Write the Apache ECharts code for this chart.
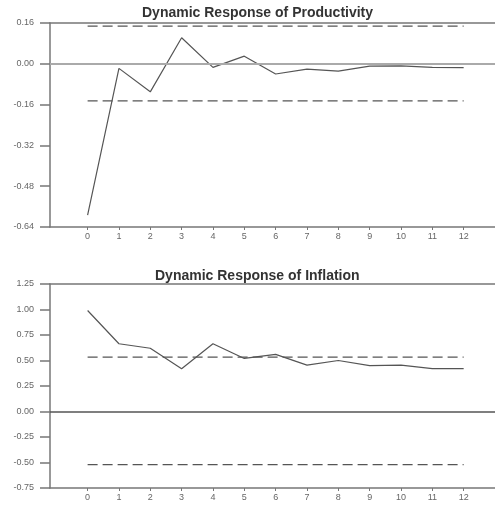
<!DOCTYPE html>
<html>
<head>
<meta charset="utf-8">
<script src="https://cdn.jsdelivr.net/npm/echarts@6/dist/echarts.min.js"></script>
<style>html,body{margin:0;padding:0;background:#fff}#c{width:495px;height:508px}</style>
</head>
<body>
<div id="c"></div>
<script>
var horizons = [0,1,2,3,4,5,6,7,8,9,10,11,12];
var productivity = [-0.593,-0.018,-0.11,0.102,-0.014,0.03,-0.04,-0.021,-0.029,-0.009,-0.008,-0.014,-0.015];
var inflation = [0.99,0.664,0.62,0.42,0.664,0.52,0.56,0.455,0.50,0.45,0.455,0.42,0.42];
var prodBands = [0.148,-0.145];
var inflBands = [0.533,-0.52];
var titles = ['Dynamic Response of Productivity','Dynamic Response of Inflation'];

var chart = echarts.init(document.getElementById('c'), null, {renderer:'canvas'});
var axisCol = '#777';
var labelStyle = {color:'#666', fontSize:9, fontFamily:'Liberation Sans, Arial, sans-serif'};
var titleStyle = {fontSize:14, fontWeight:'bold', color:'#333', fontFamily:'Liberation Sans, Arial, sans-serif'};

function xAx(gi){
  return [{
    type:'value', gridIndex:gi, min:-1.2, max:13, position:'bottom',
    axisLine:{show:true, onZero:false, lineStyle:{color:axisCol, width:1.5}},
    axisTick:{show:true, length:3, customValues:horizons, lineStyle:{color:axisCol}},
    axisLabel:Object.assign({customValues:horizons, margin:5}, labelStyle),
    splitLine:{show:false}
  },{
    type:'value', gridIndex:gi, min:-1.2, max:13, position:'top',
    axisLine:{show:true, onZero:false, lineStyle:{color:axisCol, width:1.5}},
    axisTick:{show:false}, axisLabel:{show:false}, splitLine:{show:false}
  }];
}
function yAx(gi, mn, mx, iv){
  return {
    type:'value', gridIndex:gi, min:mn, max:mx, interval:iv,
    axisLine:{show:true, onZero:false, lineStyle:{color:axisCol, width:1.5}},
    axisTick:{show:true, length:10, lineStyle:{color:axisCol, width:1.5}},
    axisLabel:Object.assign({margin:16, formatter:function(v){return v.toFixed(2);}}, labelStyle),
    splitLine:{show:false}
  };
}
function pts(arr){ return horizons.map(function(h,i){return [h,arr[i]];}); }
function band(v, xi, yi){
  return {type:'line', xAxisIndex:xi, yAxisIndex:yi, data:[[0,v],[12,v]], symbol:'none', silent:true,
    lineStyle:{color:'#555', width:1.3, type:[10,5]}};
}

var option = {
  animation:false,
  title:[
    {text:titles[0], left:137, top:1, textStyle:titleStyle},
    {text:titles[1], left:150, top:264, textStyle:titleStyle}
  ],
  grid:[
    {left:50, right:0, top:23, height:204},
    {left:50, right:0, top:284, height:204}
  ],
  xAxis: xAx(0).concat(xAx(1)),
  yAxis:[ yAx(0,-0.64,0.16,0.16), yAx(1,-0.75,1.25,0.25) ],
  series:[
    {type:'line', xAxisIndex:0, yAxisIndex:0, data:pts(productivity), symbol:'none',
      lineStyle:{color:'#555', width:1.2},
      markLine:{symbol:'none', silent:true, label:{show:false}, lineStyle:{color:'#aaa', width:2, type:'solid'}, data:[{yAxis:0}]}},
    band(prodBands[0],0,0), band(prodBands[1],0,0),
    {type:'line', xAxisIndex:2, yAxisIndex:1, data:pts(inflation), symbol:'none',
      lineStyle:{color:'#555', width:1.2},
      markLine:{symbol:'none', silent:true, label:{show:false}, lineStyle:{color:'#555', width:1.5, type:'solid'}, data:[{yAxis:0}]}},
    band(inflBands[0],2,1), band(inflBands[1],2,1)
  ]
};
chart.setOption(option);
</script>
</body>
</html>
